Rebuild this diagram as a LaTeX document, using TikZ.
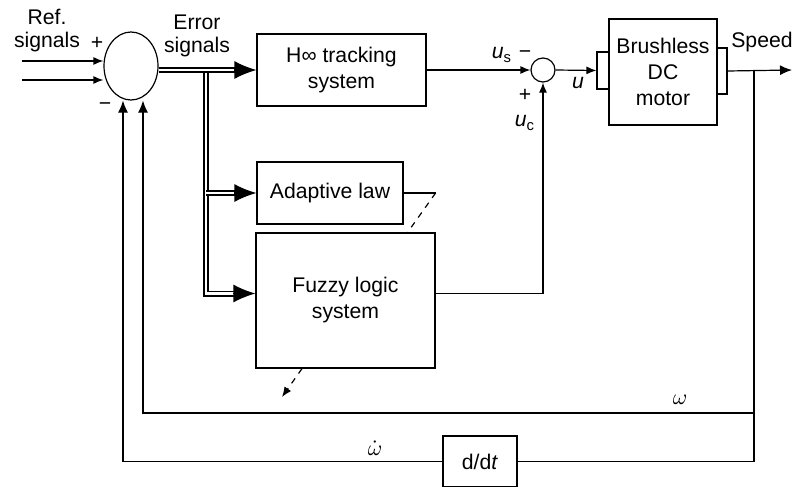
\documentclass[tikz,border=0pt]{standalone}
\usepackage{fontspec}
\setmainfont{Liberation Sans}
\usepackage{amsmath}
\usetikzlibrary{positioning,shapes.geometric,arrows.meta}

\begin{document}
\begin{tikzpicture}[x=0.5pt,y=-0.5pt,
      font=\fontsize{10.6}{13}\selectfont,
      blk/.style={draw,line width=0.6pt,align=center,inner sep=0pt},
      sumc/.style={draw,circle,line width=0.6pt,minimum size=12pt,inner sep=0pt},
      lbl/.style={inner sep=0pt,align=center,font=\fontsize{10.6}{11.5}\selectfont},
      ln/.style={line width=0.6pt},
      arr/.style={line width=0.6pt,-{Latex[length=5pt,width=4pt]}},
      fbarr/.style={line width=0.6pt,-{Latex[length=6pt,width=5pt]}},
      dbl/.style={line width=0.8pt,double distance=1.4pt,shorten >=10pt},
      bigtip/.style={line width=0.6pt,-{Latex[length=11pt,width=9pt]}}]
    \useasboundingbox (0,0) rectangle (793,487);
    \node[draw,ellipse,line width=0.6pt,minimum width=27pt,minimum height=34pt,inner sep=0pt] (sum) at (131,66) {};
    \node[blk,minimum width=84.5pt,minimum height=36pt] (hinf) at (341.5,70) {H∞ tracking\\system};
    \node[blk,minimum width=73pt,minimum height=31pt] (adapt) at (330,193) {Adaptive law};
    \node[blk,minimum width=89.5pt,minimum height=67.5pt] (fuzzy) at (345.5,300.5) {Fuzzy logic\\system};
    \node[sumc] (ssum) at (543,70) {};
    \node[blk,minimum width=54pt,minimum height=53pt] (motor) at (663,72) {Brushless\\DC\\motor};
    \node[blk,minimum width=6pt,minimum height=18.5pt] (inb) at (603,70.5) {};
    \node[blk,minimum width=5pt,minimum height=23pt] (outb) at (722,71) {};
    \node[blk,minimum width=37pt,minimum height=25.5pt] (ddt) at (480,461.5) {d/d\textit{t}};
    \coordinate (br) at (206,70);
    \coordinate (j1) at (754,70);
    \coordinate (j2) at (754,413);
    \coordinate (spd) at (792,70);
    \coordinate (fo) at (282,397);
    \coordinate (fin) at ([yshift=3.5pt]fuzzy.west);
    \coordinate (fout) at ([yshift=3.5pt]fuzzy.east);
    \foreach \k/\ry in {1/61,2/80} {
      \coordinate (r\k) at (22,\ry);
      \draw[arr] (r\k) -- (r\k -| sum.west);
    }
    \draw[dbl] (br) |- (fin);
    \draw[dbl] (sum.east |- br) -- (hinf.west);
    \draw[dbl] (br |- adapt.west) -- (adapt.west);
    \draw[bigtip] ([xshift=-11pt]hinf.west) -- (hinf.west);
    \draw[bigtip] ([xshift=-11pt]adapt.west) -- (adapt.west);
    \draw[bigtip] ([xshift=-11pt]fin) -- (fin);
    \draw[arr] (hinf.east) -- (ssum.west);
    \draw[arr] (fout) -| (ssum.south);
    \draw[arr] (ssum.east) -- (inb.west);
    \draw[fbarr] (outb.east) -- (spd);
    \draw[ln] (adapt.east) -- (adapt.east -| fuzzy.east) coordinate (ac);
    \draw[ln,dashed] (ac) -- ([xshift=-14pt]fuzzy.north east);
    \draw[arr,dashed] ([xshift=-21.75pt]fuzzy.south) -- (fo);
    \draw[ln] (j1) |- (ddt.east);
    \draw[fbarr] (ddt.west) -| ([xshift=-4pt]sum.south);
    \draw[fbarr] (j2) -| ([xshift=6pt]sum.south);
    \node[lbl] (lref) at (47,31) {Ref.\\signals};
    \node[lbl] (lerr) at (197,36) {Error\\signals};
    \node[lbl] (lpa) at (97,43) {+};
    \node[lbl] (lma) at (105,107) {−};
    \node[lbl] (lus) at (502,55) {\textit{u}\textsubscript{s}};
    \node[lbl] (lmb) at (525,55) {−};
    \node[lbl] (lpb) at (525,95) {+};
    \node[lbl] (luc) at (525,123) {\textit{u}\textsubscript{c}};
    \node[lbl] (lu) at (578,83) {\textit{u}};
    \node[lbl] (lspd) at (762,42) {Speed};
    \node[lbl] (lw) at (680,400) {$\omega$};
    \node[lbl] (lwd) at (375,448) {$\dot{\omega}$};
  \end{tikzpicture}
\end{document}
